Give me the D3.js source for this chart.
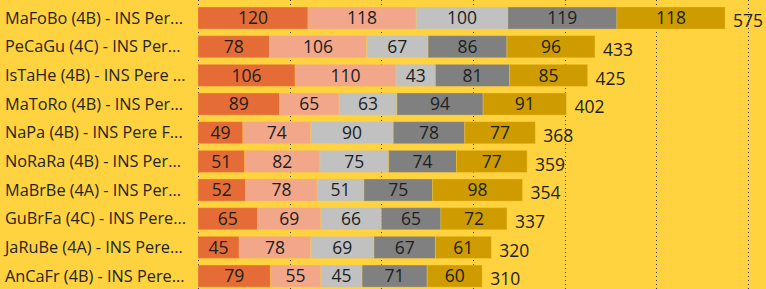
<!DOCTYPE html>
<html>
<head>
<meta charset="utf-8">
<script src="https://cdn.jsdelivr.net/npm/d3@7"></script>
<style>
  body { margin: 0; background: #FFD23F; }
  svg { display: block; }
</style>
</head>
<body>
<div id="chart"></div>
<script>
// names as shown (truncated in the reference)
var names = ["MaFoBo (4B) - INS Per...", "PeCaGu (4C) - INS Per...", "IsTaHe (4B) - INS Pere ...",
             "MaToRo (4B) - INS Per...", "NaPa (4B) - INS Pere F...", "NoRaRa (4B) - INS Per...",
             "MaBrBe (4A) - INS Per...", "GuBrFa (4C) - INS Pere...", "JaRuBe (4A) - INS Pere...",
             "AnCaFr (4B) - INS Pere..."];
var s1 = [120, 78, 106, 89, 49, 51, 52, 65, 45, 79];
var s2 = [118, 106, 110, 65, 74, 82, 78, 69, 78, 55];
var s3 = [100, 67, 43, 63, 90, 75, 51, 66, 69, 45];
var s4 = [119, 86, 81, 94, 78, 74, 75, 65, 67, 71];
var s5 = [118, 96, 85, 91, 77, 77, 98, 72, 61, 60];
var colors = ["#E66C37", "#F2A68A", "#C1C1C1", "#808080", "#CF9C00"];
var xTicks = [0, 100, 200, 300, 400, 500, 600];

var width = 766, height = 289;
var series = [s1, s2, s3, s4, s5];

var rows = names.map(function(n, i) {
    var r = { name: n, total: 0 };
    series.forEach(function(s, k) { r["s" + k] = s[i]; r.total += s[i]; });
    return r;
});
var stack = d3.stack().keys(series.map(function(s, k) { return "s" + k; }))(rows);

var svg = d3.select("#chart").append("svg")
    .attr("width", width)
    .attr("height", height);

var x = d3.scaleLinear().domain([0, 600]).range([198, 748]);
var y = d3.scaleBand().domain(names).range([3.7, 290.4]).paddingInner(0.23).paddingOuter(0.115);

// dotted gridlines
svg.append("g").selectAll("line")
    .data(xTicks)
    .enter().append("line")
        .attr("x1", function(d) { return Math.round(x(d)) + 0.5; })
        .attr("x2", function(d) { return Math.round(x(d)) + 0.5; })
        .attr("y1", 0)
        .attr("y2", height)
        .attr("stroke", "#3a3a3a")
        .attr("stroke-width", 1)
        .attr("stroke-dasharray", "1,3");

// category labels
svg.append("g").selectAll("text")
    .data(names)
    .enter().append("text")
        .attr("x", 5)
        .attr("y", function(d) { return y(d) + y.bandwidth() / 2; })
        .attr("dy", "0.35em")
        .attr("font-family", "'Open Sans', 'Noto Sans', sans-serif")
        .attr("font-size", 16.3)
        .attr("fill", "#252423")
        .text(function(d) { return d; });

// segments
var layer = svg.append("g").selectAll("g")
    .data(stack)
    .enter().append("g")
        .attr("fill", function(d, i) { return colors[i]; });

layer.selectAll("rect")
    .data(function(d) { return d; })
    .enter().append("rect")
        .attr("x", function(d) { return x(d[0]); })
        .attr("y", function(d) { return y(d.data.name); })
        .attr("width", function(d) { return x(d[1]) - x(d[0]); })
        .attr("height", y.bandwidth())
        .attr("stroke", "rgba(255,210,63,0.35)")
        .attr("stroke-width", 1);

layer.selectAll("text")
    .data(function(d) { return d; })
    .enter().append("text")
        .attr("x", function(d) { return (x(d[0]) + x(d[1])) / 2; })
        .attr("y", function(d) { return y(d.data.name) + y.bandwidth() / 2; })
        .attr("dy", "0.36em")
        .attr("text-anchor", "middle")
        .attr("font-family", "'Open Sans', 'Noto Sans', sans-serif")
        .attr("font-size", 17.5)
        .attr("fill", "#201f1e")
        .text(function(d) { return d[1] - d[0]; });

// totals
svg.append("g").selectAll("text")
    .data(rows)
    .enter().append("text")
        .attr("x", function(d) { return x(d.total) + 8; })
        .attr("y", function(d) { return y(d.name) + y.bandwidth() / 2 + 3; })
        .attr("dy", "0.36em")
        .attr("font-family", "'Open Sans', 'Noto Sans', sans-serif")
        .attr("font-size", 17.5)
        .attr("fill", "#201f1e")
        .text(function(d) { return d.total; });
</script>
</body>
</html>
